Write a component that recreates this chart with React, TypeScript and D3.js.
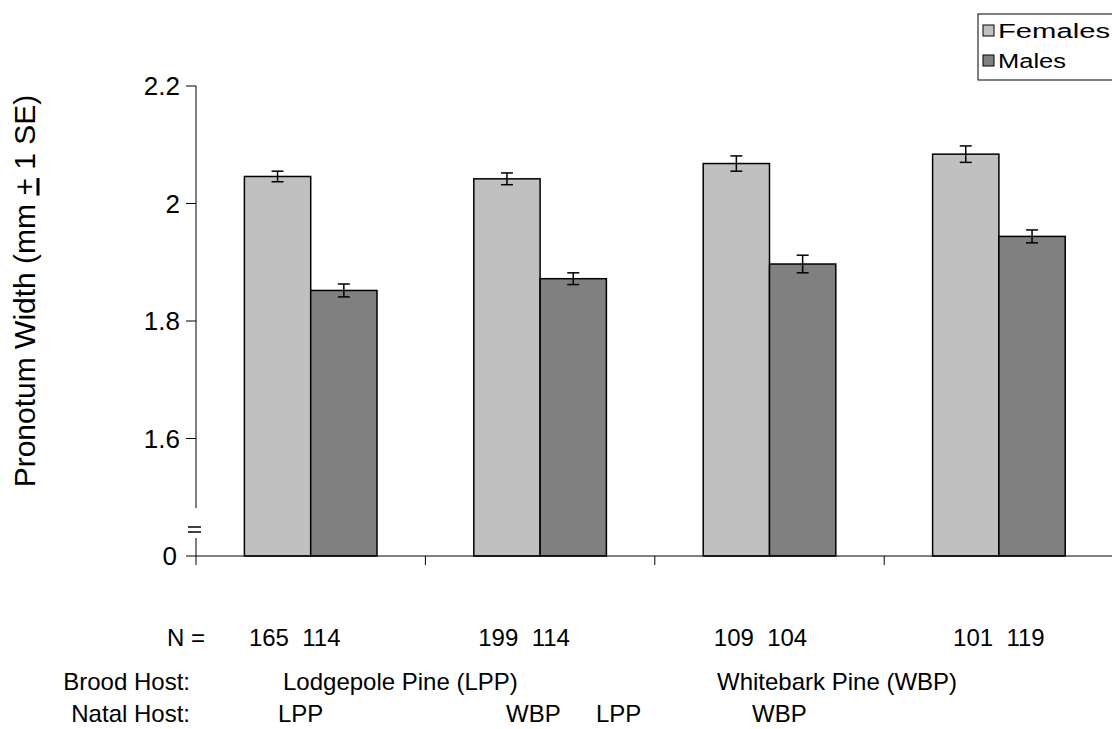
import React from 'react';
import { scaleBand, scaleLinear } from 'd3';

// groups along the x axis (brood host / natal host combos)
const groups = ['LPP-LPP', 'LPP-WBP', 'WBP-LPP', 'WBP-WBP'];
const sexes = ['Females', 'Males'];

// mean pronotum width (mm) and 1 SE
const femaleMeans = [2.046, 2.042, 2.068, 2.084];
const femaleSE = [0.009, 0.01, 0.013, 0.014];
const maleMeans = [1.852, 1.872, 1.897, 1.944];
const maleSE = [0.011, 0.01, 0.015, 0.011];

// sample sizes
const femaleN = ['165', '199', '109', '101'];
const maleN = ['114', '114', '104', '119'];

const yTicks = [1.6, 1.8, 2.0, 2.2];
const yTickLabels = ['1.6', '1.8', '2', '2.2'];

const broodHosts = ['Lodgepole Pine (LPP)', 'Whitebark Pine (WBP)'];
const natalHosts = ['LPP', 'WBP', 'LPP', 'WBP'];

// text box placements (the original labels sit in loose text boxes)
const nShift = [-16, -16, -9, 0];
const broodX = [283, 717];
const natalX = [278, 506, 596, 752];

const colors = { Females: '#c0c0c0', Males: '#808080' };
const font = 'Liberation Sans, Arial, sans-serif';

export default function App() {
  const width = 1112;
  const height = 729;

  // x: one band per group, inner band per sex
  const x0 = scaleBand().domain(groups).range([196, 1113.6]);
  const x1 = scaleBand()
    .domain(sexes)
    .range([0, x0.bandwidth()])
    .paddingInner(0)
    .paddingOuter(0.73);

  // y axis is broken: the base (drawn as 0) sits where 1.4 would be
  const y = scaleLinear().domain([1.4, 2.2]).range([556, 86]);
  const base = y(1.4);

  const rows = groups.map((g, i) => [
    { g, sex: 'Females', v: femaleMeans[i], se: femaleSE[i] },
    { g, sex: 'Males', v: maleMeans[i], se: maleSE[i] }
  ]);

  const axisX = x0(groups[0]) as number;
  const fs = 26;
  const bfs = 24;

  return (
    <svg
      width={width}
      height={height}
      style={{ position: 'absolute', left: 0, top: 0, background: '#fff' }}
      fontFamily={font}
    >
      {/* bars */}
      {rows.flat().map((d, i) => {
        const bx = (x0(d.g) as number) + (x1(d.sex) as number);
        const bw = x1.bandwidth();
        const cx = bx + bw / 2;
        return (
          <g key={i}>
            <rect
              x={bx}
              y={y(d.v)}
              width={bw}
              height={base - y(d.v)}
              fill={colors[d.sex as 'Females' | 'Males']}
              stroke="#000"
              strokeWidth={1.5}
            />
            <line x1={cx} x2={cx} y1={y(d.v + d.se)} y2={y(d.v - d.se)} stroke="#000" strokeWidth={1.5} />
            <line x1={cx - 6} x2={cx + 6} y1={y(d.v + d.se)} y2={y(d.v + d.se)} stroke="#000" strokeWidth={1.5} />
            <line x1={cx - 6} x2={cx + 6} y1={y(d.v - d.se)} y2={y(d.v - d.se)} stroke="#000" strokeWidth={1.5} />
          </g>
        );
      })}

      {/* y axis with break */}
      <line x1={axisX} x2={axisX} y1={y(2.2)} y2={508} stroke="#000" strokeWidth={1} />
      <line x1={188} x2={201} y1={527} y2={527} stroke="#000" strokeWidth={1.5} />
      <line x1={188} x2={201} y1={532} y2={532} stroke="#000" strokeWidth={1.5} />
      <line x1={axisX} x2={axisX} y1={538} y2={565} stroke="#000" strokeWidth={1} />
      {yTicks.map((t, i) => (
        <g key={t}>
          <line x1={axisX - 10} x2={axisX} y1={y(t)} y2={y(t)} stroke="#000" />
          <text x={axisX - 16} y={y(t)} dy="0.35em" textAnchor="end" fontSize={fs}>
            {yTickLabels[i]}
          </text>
        </g>
      ))}
      <line x1={axisX - 10} x2={axisX} y1={base} y2={base} stroke="#000" />
      <text x={axisX - 19} y={base} dy="0.35em" textAnchor="end" fontSize={fs}>
        0
      </text>

      {/* x axis */}
      <line x1={axisX} x2={width} y1={base} y2={base} stroke="#000" />
      {groups.slice(1).map(g => (
        <line key={g} x1={x0(g)} x2={x0(g)} y1={base} y2={base + 9} stroke="#000" />
      ))}

      {/* y title */}
      <text transform="translate(24,291) rotate(-90)" textAnchor="middle" dy="0.35em" fontSize={30}>
        Pronotum Width (mm <tspan textDecoration="underline">+</tspan> 1 SE)
      </text>

      {/* sample sizes */}
      <text x={205} y={646} textAnchor="end" fontSize={bfs}>
        N =
      </text>
      {groups.map((g, i) => (
        <text
          key={g}
          x={(x0(g) as number) + x0.bandwidth() / 2 + nShift[i]}
          y={646}
          textAnchor="middle"
          fontSize={bfs}
          style={{ whiteSpace: 'pre' }}
        >
          {`${femaleN[i]}  ${maleN[i]}`}
        </text>
      ))}

      {/* host labels */}
      <text x={190} y={690} textAnchor="end" fontSize={bfs}>
        Brood Host:
      </text>
      {broodHosts.map((b, i) => (
        <text key={b} x={broodX[i]} y={690} fontSize={bfs}>
          {b}
        </text>
      ))}
      <text x={190} y={722} textAnchor="end" fontSize={bfs}>
        Natal Host:
      </text>
      {natalHosts.map((n, i) => (
        <text key={i} x={natalX[i]} y={722} fontSize={bfs}>
          {n}
        </text>
      ))}

      {/* legend */}
      <rect x={978} y={14} width={140} height={66} fill="#fff" stroke="#000" strokeWidth={1} />
      {sexes.map((s, i) => (
        <g key={s}>
          <rect x={983} y={25 + i * 30} width={11} height={11} fill={colors[s as 'Females' | 'Males']} stroke="#000" />
          <text
            x={998}
            y={31 + i * 30}
            dy="0.35em"
            fontSize={20}
            textLength={s === 'Females' ? 112 : 68}
            lengthAdjust="spacingAndGlyphs"
          >
            {s}
          </text>
        </g>
      ))}
    </svg>
  );
}
